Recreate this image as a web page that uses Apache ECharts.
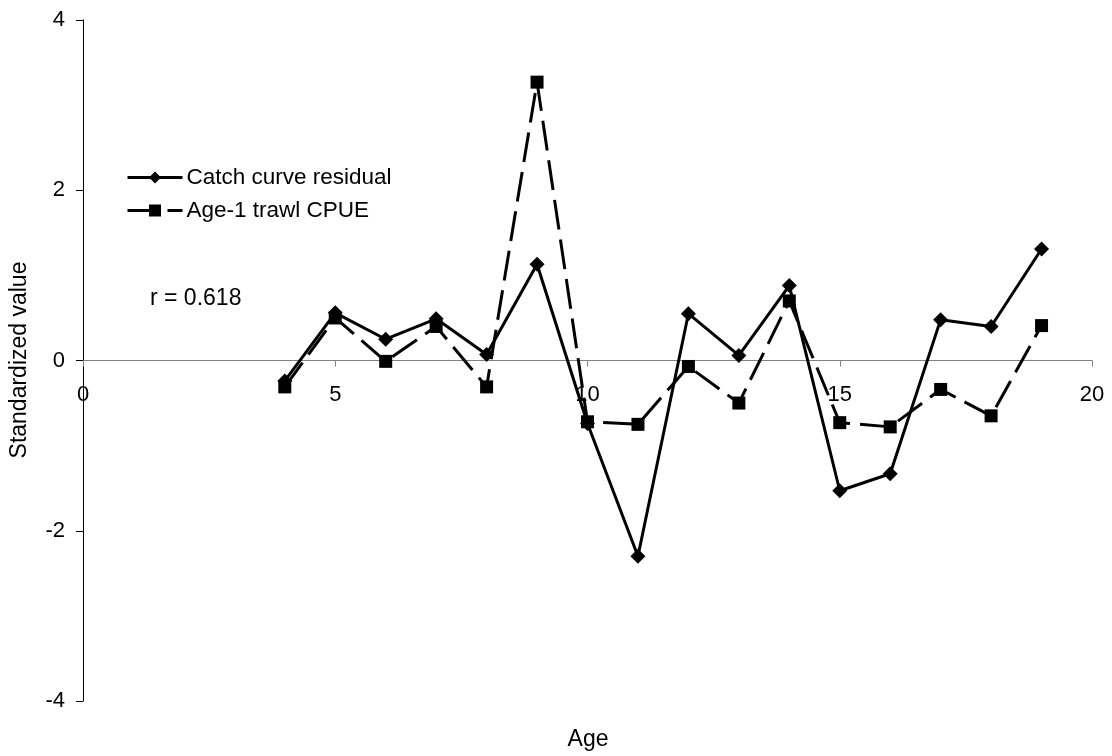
<!DOCTYPE html>
<html>
<head>
<meta charset="utf-8">
<script src="https://cdn.jsdelivr.net/npm/echarts@6/dist/echarts.min.js"></script>
<style>
  html, body { margin: 0; padding: 0; background: #fff; }
  #chart { width: 1112px; height: 756px; }
</style>
</head>
<body>
<div id="chart"></div>
<script>
// Ages on the x axis
const ages = [4, 5, 6, 7, 8, 9, 10, 11, 12, 13, 14, 15, 16, 17, 18, 19];
// Standardized catch-curve residuals by age
const catchResidual = [-0.24, 0.56, 0.25, 0.49, 0.07, 1.13, -0.74, -2.30, 0.55, 0.06, 0.88, -1.53, -1.33, 0.48, 0.40, 1.31];
// Standardized age-1 trawl CPUE by age
const trawlCPUE = [-0.31, 0.50, -0.01, 0.40, -0.31, 3.27, -0.72, -0.75, -0.07, -0.50, 0.70, -0.73, -0.78, -0.34, -0.65, 0.41];
// Axis ticks
const xTicks = [0, 5, 10, 15, 20];
const yTicks = [-4, -2, 0, 2, 4];
const corrText = 'r = 0.618';

const FONT = 'Liberation Sans, Arial, sans-serif';
const pair = (xs, ys) => xs.map((x, i) => [x, ys[i]]);

const GRID = { left: 83, right: 20, top: 20, bottom: 55 };
const PLOT_H = 756 - GRID.top - GRID.bottom;
const yMin = yTicks[0], yMax = yTicks[yTicks.length - 1];
// shift the x axis (line, ticks and labels) up to where y = 0 sits
const zeroOffset = -PLOT_H * (0 - yMin) / (yMax - yMin);

const chart = echarts.init(document.getElementById('chart'), null, { renderer: 'canvas' });
chart.setOption({
  animation: false,
  backgroundColor: '#fff',
  textStyle: { fontFamily: FONT, color: '#000' },
  grid: GRID,
  xAxis: {
    type: 'value',
    position: 'bottom',
    offset: zeroOffset,
    min: xTicks[0], max: xTicks[xTicks.length - 1], interval: 5,
    axisLine: { show: true, onZero: false, lineStyle: { color: '#808080', width: 1 } },
    axisTick: { show: true, length: 6, lineStyle: { color: '#808080' } },
    axisLabel: { fontSize: 22, color: '#000', margin: 23, fontFamily: FONT, showMinLabel: true, showMaxLabel: true },
    splitLine: { show: false }
  },
  yAxis: {
    type: 'value',
    min: yMin, max: yMax, interval: 2,
    axisLine: { show: true, onZero: false, lineStyle: { color: '#000', width: 1 } },
    axisTick: { show: true, length: 7, lineStyle: { color: '#000' } },
    axisLabel: { fontSize: 22, color: '#000', margin: 18, fontFamily: FONT },
    splitLine: { show: false }
  },
  legend: {
    orient: 'vertical',
    left: 126, top: 166,
    itemWidth: 55, itemHeight: 15, itemGap: 10,
    padding: 0,
    lineStyle: { width: 3 },
    textStyle: { fontSize: 22.5, color: '#000', fontFamily: FONT, padding: [0, 0, 0, -1] },
    data: ['Catch curve residual', 'Age-1 trawl CPUE']
  },
  graphic: [
    { type: 'text', left: 150, top: 287, style: { text: corrText, fontSize: 23, fill: '#000', fontFamily: FONT } },
    { type: 'text', x: 588, y: 740, style: { text: 'Age', fontSize: 23, fill: '#000', fontFamily: FONT, align: 'center', verticalAlign: 'middle' } },
    { type: 'text', x: 20, y: 360, rotation: Math.PI / 2, style: { text: 'Standardized value', fontSize: 23, fill: '#000', fontFamily: FONT, align: 'center', verticalAlign: 'middle' } }
  ],
  series: [
    {
      name: 'Catch curve residual',
      type: 'line',
      data: pair(ages, catchResidual),
      symbol: 'diamond', symbolSize: 15,
      itemStyle: { color: '#000' },
      lineStyle: { color: '#000', width: 3 },
      z: 2
    },
    {
      name: 'Age-1 trawl CPUE',
      type: 'line',
      data: pair(ages, trawlCPUE),
      symbol: 'rect', symbolSize: 13,
      itemStyle: { color: '#000' },
      lineStyle: { color: '#000', width: 3, type: [30, 10] },
      z: 3
    }
  ]
});
</script>
</body>
</html>
